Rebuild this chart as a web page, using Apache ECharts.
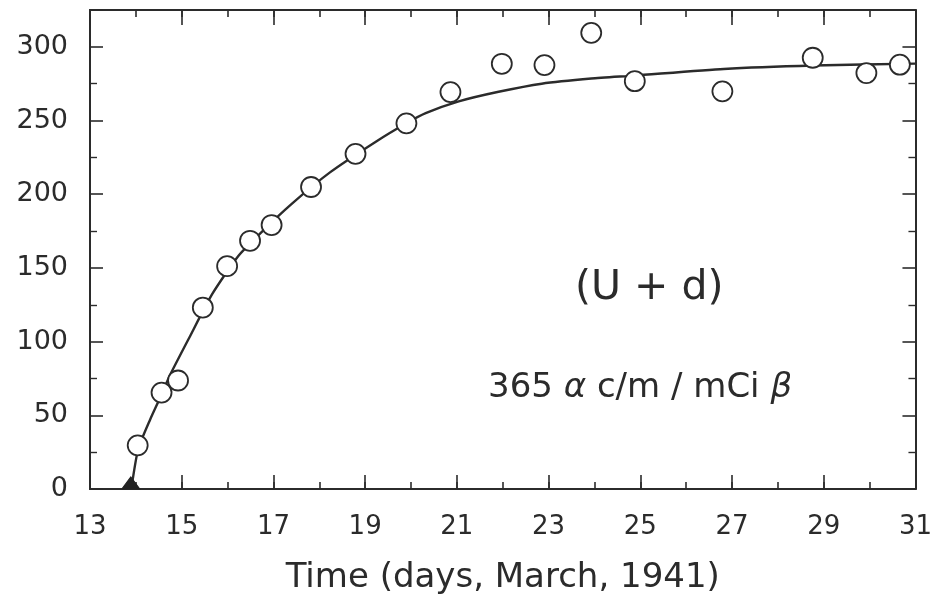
<!DOCTYPE html>
<html><head><meta charset="utf-8">
<script src="https://cdn.jsdelivr.net/npm/echarts@6/dist/echarts.min.js"></script>
<style>html,body{margin:0;padding:0;background:#fff}#c{width:935px;height:602px}</style>
</head><body><div id="c"></div>
<script>
// Observed activity (open circles)
const obsDays   = [14.04, 14.56, 14.92, 15.46, 15.99, 16.49, 16.96, 17.82, 18.79, 19.90, 20.86, 21.98, 22.91, 23.93, 24.88, 26.79, 28.76, 29.93, 30.66];
const obsValues = [29.6, 65.4, 73.6, 123.1, 151.2, 168.4, 179.1, 204.9, 227.4, 248.1, 269.3, 288.5, 287.6, 309.5, 276.7, 269.8, 292.6, 282.2, 287.9];
// Start point (filled triangle)
const startDays   = [13.89];
const startValues = [0];
// Fitted growth curve
const fitDays   = [13.9, 14.05, 14.31, 14.56, 14.74, 15.17, 15.66, 16.23, 16.73, 17.38, 18.24, 19.25, 19.89, 20.32, 21.04, 21.91, 22.85, 23.93, 24.87, 26.82, 28.77, 31.0];
const fitValues = [0, 27, 47, 64, 77, 103, 132, 158, 174, 193, 215, 236, 248, 255, 263, 269.5, 275, 278.5, 280.5, 285, 287.3, 288.6];
// Tick labels
const xTickLabels = ['13', '15', '17', '19', '21', '23', '25', '27', '29', '31'];
const yTickLabels = ['0', '50', '100', '150', '200', '250', '300'];

const FONT = 'DejaVu Sans';
const INK = '#2b2b2b';

const chart = echarts.init(document.getElementById('c'), null, {renderer: 'canvas'});

const lineStyle = {color: INK, width: 2};
function xAx(opts) {
  return Object.assign({
    type: 'value', gridIndex: 0, min: 13, max: 31, interval: 1,
    axisLine: {show: true, onZero: false, lineStyle: lineStyle},
    axisTick: {show: true, inside: true, length: 7, lineStyle: {color: INK, width: 1.6}},
    axisLabel: {show: false},
    splitLine: {show: false}
  }, opts);
}
function yAx(opts) {
  return Object.assign({
    type: 'value', gridIndex: 0, min: 0, max: 325, interval: 50,
    axisLine: {show: true, onZero: false, lineStyle: lineStyle},
    axisTick: {show: true, inside: true, length: 13, lineStyle: {color: INK, width: 1.6}},
    minorTick: {show: true, splitNumber: 2, length: 7, lineStyle: {color: INK, width: 1.4}},
    axisLabel: {show: false},
    splitLine: {show: false}
  }, opts);
}

chart.setOption({
  animation: false,
  backgroundColor: '#ffffff',
  grid: {left: 90, right: 14, top: 10, bottom: 113, containLabel: false},
  xAxis: [
    xAx({position: 'bottom'}),
    xAx({position: 'bottom', min: 0, max: 18, interval: 2,
         axisTick: {show: true, inside: true, length: 14, lineStyle: {color: INK, width: 1.6}},
         axisLabel: {show: true, margin: 25, color: INK, fontFamily: FONT, fontSize: 26,
                     formatter: v => xTickLabels[Math.round(v / 2)]},
         name: 'Time (days, March, 1941)', nameLocation: 'middle', nameGap: 72,
         nameTextStyle: {color: INK, fontFamily: FONT, fontSize: 34}}),
    xAx({position: 'top'}),
    xAx({position: 'top', min: 0, max: 18, interval: 2,
         axisTick: {show: true, inside: true, length: 15, lineStyle: {color: INK, width: 1.6}}})
  ],
  yAxis: [
    yAx({position: 'left',
         axisLabel: {show: true, margin: 22, color: INK, fontFamily: FONT, fontSize: 27,
                     showMaxLabel: false,
                     formatter: v => (v % 50 === 0 ? (yTickLabels[v / 50] || '') : '')}}),
    yAx({position: 'right'})
  ],
  graphic: [
    {type: 'text', left: 575, top: 268, silent: true,
     style: {text: '(U + d)', fill: INK, font: '41px "DejaVu Sans"'}},
    {type: 'text', left: 488, top: 371, silent: true,
     style: {
       text: '365 {g|α} c/m / mCi {g|β}', fill: INK, font: '34px "DejaVu Sans"',
       rich: {g: {fontStyle: 'italic', fontFamily: FONT, fontSize: 34, fill: INK, color: INK}}
     }}
  ],
  series: [
    {type: 'line', xAxisIndex: 0, yAxisIndex: 0, smooth: 0.2, showSymbol: false, symbol: 'none',
     data: fitDays.map((d, i) => [d, fitValues[i]]),
     lineStyle: {color: INK, width: 2.4}, z: 2},
    {type: 'scatter', xAxisIndex: 0, yAxisIndex: 0, symbol: 'triangle', symbolSize: [18, 12],
     symbolOffset: [0, -6], clip: false,
     data: startDays.map((d, i) => [d, startValues[i]]),
     itemStyle: {color: '#222', borderColor: '#222', borderWidth: 1, opacity: 1}, z: 20},
    {type: 'scatter', xAxisIndex: 0, yAxisIndex: 0, symbol: 'circle', symbolSize: 20,
     data: obsDays.map((d, i) => [d, obsValues[i]]),
     itemStyle: {color: '#ffffff', borderColor: INK, borderWidth: 1.8, opacity: 1}, z: 5}
  ]
});
</script>
</body></html>
